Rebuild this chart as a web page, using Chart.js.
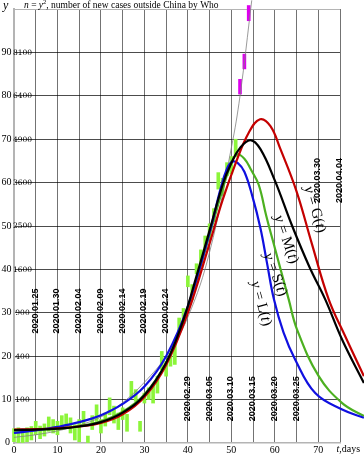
<!DOCTYPE html>
<html>
<head>
<meta charset="utf-8">
<script src="https://cdn.jsdelivr.net/npm/chart.js@4.4.0/dist/chart.umd.min.js"></script>
<style>
    html, body { margin: 0; padding: 0; background: #fff; }
    #wrap { width: 364px; height: 455px; }
</style>
</head>
<body>
<div id="wrap"><canvas id="chart" width="364" height="455"></canvas></div>
<script>
"use strict";

// day 0 = 2020.01.20, values are y = sqrt(new cases)
const caseDays = [0, 1, 2, 3, 4, 5, 6, 7, 8, 9, 10, 11, 12, 13, 14, 15, 16, 17, 18, 19, 20, 21, 22, 23, 24, 25,
    26, 27, 28, 29, 30, 31, 32, 33, 34, 35, 36, 37, 38, 39, 40, 41, 42, 43, 44, 45, 46, 47, 48, 49, 50, 51];
const caseLow = [0.3, 0, 0, 0.3, 0.7, 1.9, 1.0, 1.6, 2.7, 2.3, 1.9, 3.1, 3.5, 2.3, 0.7, 0.3, 3.9, 0, 3.1, 5.0,
    2.3, 3.9, 6.5, 4.6, 3.1, 5.4, 2.7, 10.4, 9.6, 2.7, 9.2, 10.0, 9.2, 11.5, 16.9, 15.4, 17.7, 18.1, 25.8, 27.5,
    36.0, 33.0, 39.0, 41.0, 44.6, 47.0, 51.0, 58.5, 57.0, 61.6, 62.0, 66.0];
const caseHigh = [3.3, 3.5, 3.1, 3.5, 3.8, 5.0, 3.9, 4.4, 6.0, 5.4, 5.0, 6.3, 6.7, 5.8, 4.2, 5.4, 7.3, 1.6, 6.3, 8.8,
    5.4, 6.9, 10.4, 8.5, 6.9, 8.1, 6.6, 14.2, 12.3, 5.0, 11.5, 12.7, 13.5, 15.4, 21.1, 18.8, 20.7, 23.1, 28.8, 31.0,
    38.5, 36.5, 41.3, 44.5, 47.7, 50.5, 54.0, 62.3, 61.0, 64.6, 66.0, 70.0];

const recentDays = [52, 53, 54];
const recentLow = [80.4, 86.2, 97.3];
const recentHigh = [83.8, 89.6, 100.8];

const gDays = [0, 5, 10, 15, 20, 25, 30, 35, 40, 45, 48, 51, 54, 56.6, 59, 61.3, 65, 68.5, 72.4, 76.2, 80.5];
const gValues = [3.1, 3.2, 3.4, 3.8, 4.6, 6.6, 10.6, 18, 30, 46, 56, 64.5, 71.5, 74.6, 73, 67.7, 58, 46, 33.1, 24.6, 15.4];

const mDays = [0, 5, 10, 15, 20, 25, 30, 35, 39, 42, 45, 48, 50, 52, 54.4, 56.7, 60, 64, 68, 71.6, 75.5, 80.5];
const mValues = [3.0, 3.1, 3.3, 3.8, 4.8, 7, 11, 18.5, 28.5, 38.5, 49, 59.5, 64.5, 68, 69.8, 67.7, 60.5, 50, 40.5, 33.1, 23.8, 13.8];

const sDays = [0, 5, 10, 15, 20, 25, 30, 35, 40, 45, 48, 50, 51.3, 53, 54.5, 56.3, 58, 60.1, 63.2, 65.1, 70.1, 75.5, 80.5];
const sValues = [2.8, 3, 3.3, 3.9, 5, 7.2, 11.2, 18.5, 31, 48, 58.5, 64.5, 66.5, 65.5, 63, 59.5, 52.5, 44.6, 33.1, 26.2, 15.4, 9.2, 6.2];

const lDays = [0, 5, 10, 15, 20, 25, 30, 35, 40, 45, 47.5, 49, 50.2, 51.5, 53, 54.8, 56.7, 58.2, 59.8, 62, 64.7, 69.3, 75.5, 80.5];
const lValues = [2.3, 2.9, 3.7, 4.8, 6.4, 9, 13, 20, 31.5, 48.5, 58.5, 63.2, 64.8, 64.5, 62.5, 57, 49.5, 41.5, 33.1, 25.5, 19.2, 11.5, 7.7, 5.8];

const expDays = [0, 5, 10, 15, 20, 25, 30, 35, 40, 45, 50, 52, 54.7];
const expValues = [1.3, 1.9, 2.8, 4.1, 6, 9.3, 14, 20, 29, 44, 68, 80, 102];

const yTickValues = [10, 20, 30, 40, 50, 60, 70, 80, 90];
const xTickValues = [0, 10, 20, 30, 40, 50, 60, 70];

const dateDays = [5, 10, 15, 20, 25, 30, 35, 40, 45, 50, 55, 60, 65, 70, 75];
const dateLabels = ["2020.01.25", "2020.01.30", "2020.02.04", "2020.02.09", "2020.02.14", "2020.02.19",
    "2020.02.24", "2020.02.29", "2020.03.05", "2020.03.10", "2020.03.15", "2020.03.20", "2020.03.25",
    "2020.03.30", "2020.04.04"];

const curveNames = ["G", "M", "S", "L"];

function toPoints(xs, ys) {
    return xs.map((x, i) => ({x: x, y: ys[i]}));
}

function toRanges(xs, lo, hi) {
    return xs.map((x, i) => ({x: x, y: [lo[i], hi[i]]}));
}

const SERIF = "'Liberation Serif', 'Times New Roman', serif";

function drawPieces(ctx, pieces, x, y) {
    // pieces: [text, font, baseline shift]
    let cx = x;
    pieces.forEach((p) => {
        ctx.font = p[1];
        ctx.fillText(p[0], cx, y + (p[2] || 0));
        cx += ctx.measureText(p[0]).width;
    });
    return cx - x;
}

function piecesWidth(ctx, pieces) {
    let w = 0;
    pieces.forEach((p) => {
        ctx.font = p[1];
        w += ctx.measureText(p[0]).width;
    });
    return w;
}

const textPlugin = {
    id: "texts",
    afterDatasetsDraw(chart) {
        const ctx = chart.ctx;
        const xs = chart.scales.x;
        const ys = chart.scales.y;
        const area = chart.chartArea;
        ctx.save();
        ctx.fillStyle = "#000";

        // y tick labels: y and n = y^2
        ctx.textBaseline = "middle";
        ctx.textAlign = "right";
        ctx.font = "10px " + SERIF;
        ctx.fillText("0", area.left - 4, ys.getPixelForValue(0) - 0.5);
        yTickValues.forEach((v) => {
            const py = ys.getPixelForValue(v);
            ctx.textAlign = "right";
            ctx.font = "10px " + SERIF;
            ctx.fillText(String(v), area.left - 2.5, py);
            ctx.textAlign = "center";
            ctx.font = "7.5px 'DejaVu Serif'";
            ctx.fillText(String(v * v), area.left + 8.5, py + 0.5);
        });

        // x tick labels
        ctx.textAlign = "center";
        ctx.textBaseline = "alphabetic";
        ctx.font = "10px " + SERIF;
        xTickValues.forEach((v) => {
            ctx.fillText(String(v), xs.getPixelForValue(v), 452.5);
        });
        ctx.textAlign = "left";
        drawPieces(ctx, [["t", "italic 10px " + SERIF], [",days", "10px " + SERIF]], 336.5, 452);

        // axis name and title
        drawPieces(ctx, [["y", "italic 12px " + SERIF]], 3, 9);
        drawPieces(ctx, [
            ["n", "italic 9.5px " + SERIF],
            [" = ", "9.5px " + SERIF],
            ["y", "italic 9.5px " + SERIF],
            ["2", "6.5px " + SERIF, -3.5],
            [", number of new cases outside China by Who", "9.5px " + SERIF]
        ], 24, 7.5);

        // dates along the day grid
        ctx.font = "bold 9px 'Liberation Sans', Arial, sans-serif";
        ctx.textAlign = "center";
        ctx.textBaseline = "middle";
        dateDays.forEach((d, i) => {
            const level = d <= 35 ? 30.4 : (d <= 65 ? 10.2 : 60.5);
            ctx.save();
            ctx.translate(xs.getPixelForValue(d) - 0.5, ys.getPixelForValue(level));
            ctx.rotate(-Math.PI / 2);
            ctx.fillText(dateLabels[i], 0, 0);
            ctx.restore();
        });

        // curve names, written along the falling side
        const spots = [[69.2, 53.8, 73.5], [62.6, 46.9, 71], [60.1, 38.8, 70], [56.8, 32.1, 74.5]];
        ctx.textBaseline = "middle";
        ctx.textAlign = "left";
        curveNames.forEach((name, i) => {
            const s = spots[i];
            const pieces = [
                ["y", "italic 15px " + SERIF],
                [" = " + name + "(", "15px " + SERIF],
                ["t", "italic 15px " + SERIF],
                [")", "15px " + SERIF]
            ];
            ctx.save();
            ctx.translate(xs.getPixelForValue(s[0]), ys.getPixelForValue(s[1]));
            ctx.rotate(s[2] * Math.PI / 180);
            const w = piecesWidth(ctx, pieces);
            drawPieces(ctx, pieces, -w / 2, 0);
            ctx.restore();
        });

        ctx.restore();
    }
};

function lineSet(label, xs, ys, color, width, order) {
    return {
        type: "line",
        label: label,
        data: toPoints(xs, ys),
        borderColor: color,
        borderWidth: width,
        pointRadius: 0,
        tension: 0.4,
        fill: false,
        clip: false,
        order: order
    };
}

new Chart(document.getElementById("chart"), {
    type: "line",
    data: {
        datasets: [
            lineSet("y = M(t)", mDays, mValues, "#000000", 2.2, 1),
            lineSet("y = G(t)", gDays, gValues, "#c40000", 2.2, 2),
            lineSet("y = L(t)", lDays, lValues, "#1010e0", 2.2, 3),
            lineSet("y = S(t)", sDays, sValues, "#4cb020", 2.2, 4),
            lineSet("exp", expDays, expValues, "#808080", 0.8, 5),
            {
                type: "bar",
                label: "cases",
                data: toRanges(caseDays, caseLow, caseHigh),
                backgroundColor: "#8cf53a",
                barThickness: 3,
                grouped: false,
                clip: false,
                order: 6
            },
            {
                type: "bar",
                label: "recent",
                data: toRanges(recentDays, recentLow, recentHigh),
                backgroundColor: "#dd00ee",
                barThickness: 3,
                grouped: false,
                clip: false,
                order: 6
            }
        ]
    },
    options: {
        responsive: false,
        animation: false,
        devicePixelRatio: 1,
        layout: {padding: {left: 14, right: 24, top: 9, bottom: 12}},
        plugins: {legend: {display: false}, tooltip: {enabled: false}},
        scales: {
            x: {
                type: "linear",
                offset: false,
                afterDataLimits: (scale) => {
                    scale.min = 0;
                    scale.max = 75;
                },
                ticks: {display: false, stepSize: 5},
                grid: {
                    offset: false,
                    drawTicks: false,
                    color: (c) => c.tick && c.tick.value === 0 ? "rgba(0,0,0,0)" : "rgba(0,0,0,0.55)",
                    lineWidth: 1
                },
                border: {color: "#b4b4b4", width: 1.5}
            },
            y: {
                type: "linear",
                min: 0,
                max: 100,
                ticks: {display: false, stepSize: 10},
                grid: {
                    drawTicks: false,
                    color: (c) => {
                        if (!c.tick) return "rgba(0,0,0,0.7)";
                        if (c.tick.value === 0) return "rgba(0,0,0,0)";
                        if (c.tick.value === 100) return "#b4b4b4";
                        return "rgba(0,0,0,0.7)";
                    },
                    lineWidth: 1
                },
                border: {color: "#b4b4b4", width: 2}
            }
        }
    },
    plugins: [textPlugin]
});
</script>
</body>
</html>
